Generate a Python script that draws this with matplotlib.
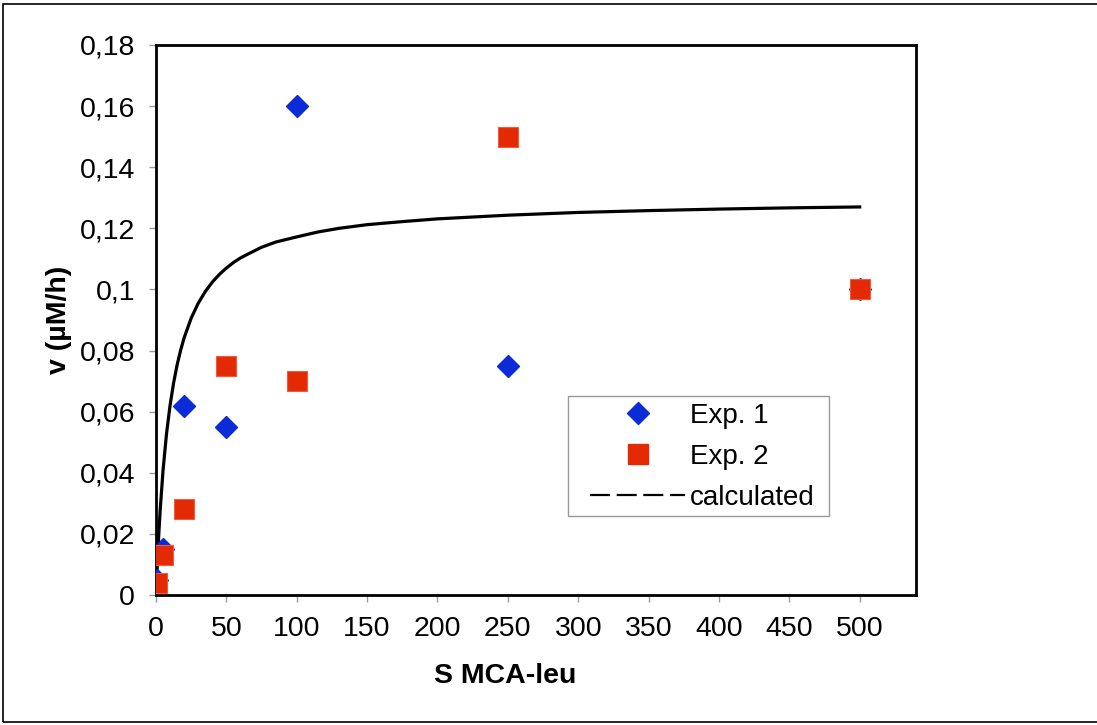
import matplotlib
matplotlib.use("Agg")
import matplotlib.pyplot as plt
from matplotlib.lines import Line2D
from matplotlib.patches import Rectangle

plt.rcParams['font.family'] = ['Liberation Sans', 'DejaVu Sans']

# Data
s_values = [1, 5, 20, 50, 100, 250, 500]
exp1 = [0.005, 0.015, 0.062, 0.055, 0.160, 0.075, 0.100]
exp2 = [0.004, 0.013, 0.028, 0.075, 0.070, 0.150, 0.100]

calc_x = [0, 1, 2, 3, 5, 7.5, 10, 12.5, 15, 17.5, 20, 25, 30, 35, 40, 45, 50,
          55, 60, 65, 75, 85, 100, 115, 130, 150, 175, 200, 250, 300, 350,
          400, 450, 500]
calc_y = [0.0, 0.0109, 0.0201, 0.0280, 0.0408, 0.0529, 0.0621, 0.0694,
          0.0753, 0.0801, 0.0842, 0.0906, 0.0955, 0.0993, 0.1024, 0.1049,
          0.1070, 0.1088, 0.1103, 0.1115, 0.1138, 0.1155, 0.1172, 0.1188,
          0.1200, 0.1212, 0.1222, 0.1231, 0.1243, 0.1252, 0.1258, 0.1263,
          0.1267, 0.1270]

x_ticks = [0, 50, 100, 150, 200, 250, 300, 350, 400, 450, 500]
y_ticks = [0, 0.02, 0.04, 0.06, 0.08, 0.10, 0.12, 0.14, 0.16, 0.18]
y_tick_labels = ['0', '0,02', '0,04', '0,06', '0,08', '0,1', '0,12', '0,14', '0,16', '0,18']

blue = '#0B2BD6'
red = '#E42A05'

W, H = 1097, 725
fig = plt.figure(figsize=(W/100, H/100), dpi=100)
ax = fig.add_axes([156/W, 1 - 595/H, (916 - 156)/W, (595 - 45)/H])

ax.plot(calc_x, calc_y, color='black', lw=2.3, zorder=2)
ax.plot(s_values, exp1, ls='none', marker='D', ms=11, color=blue, mec=blue, zorder=3)
ax.plot(s_values, exp2, ls='none', marker='s', ms=14, color=red, mec='#F05A40', mew=0.8, zorder=4)

ax.set_xlim(0, 540)
ax.set_ylim(0, 0.18)
ax.set_xticks(x_ticks)
ax.set_xticklabels([str(v) for v in x_ticks])
ax.set_yticks(y_ticks)
ax.set_yticklabels(y_tick_labels)
ax.tick_params(axis='both', direction='out', length=5, width=1, color='#999999',
               labelsize=20.5, labelcolor='black', pad=10)
for sp in ax.spines.values():
    sp.set_linewidth(2.0)
    sp.set_color('black')

ax.set_xlabel('S MCA-leu', fontsize=20.5, fontweight='bold')
ax.set_ylabel('v (µM/h)', fontsize=20.5, fontweight='bold')
ax.xaxis.set_label_coords((505 - 156)/760, (595 - 663)/550)
ax.yaxis.set_label_coords((72 - 156)/760, 0.5)

# legend frame (drawn under the legend entries)
ax.add_patch(Rectangle((568/W, 1 - 516/H), 261/W, 120/H,
                       transform=fig.transFigure, fill=True, facecolor='white',
                       edgecolor='#999999', lw=1.0, zorder=5, clip_on=False))

handles = [
    Line2D([], [], ls='none', marker='D', ms=11, color=blue),
    Line2D([], [], ls='none', marker='s', ms=14, color=red),
    Line2D([], [], color='black', lw=1.6, ls=(0, (9.0, 3.0))),
]
leg = ax.legend(handles, ['Exp. 1', 'Exp. 2', 'calculated'],
                loc='upper left', bbox_to_anchor=(590/W, 1 - 403/H),
                bbox_transform=fig.transFigure,
                fontsize=20, frameon=False,
                handlelength=3.42, handletextpad=0.18, borderpad=0,
                labelspacing=0.54, borderaxespad=0)
leg.set_zorder(10)

# figure border
fig.patches.append(Rectangle((3/W, 1 - 722/H), 1.1, (722 - 4)/H,
                             transform=fig.transFigure, fill=False,
                             edgecolor='black', lw=1.2))

fig.savefig('out.png', dpi=100)
